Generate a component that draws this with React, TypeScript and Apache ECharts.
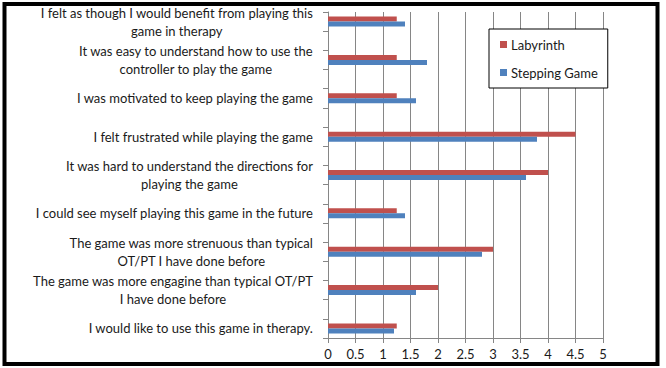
import React, { useEffect, useRef } from "react";
import * as echarts from "echarts";

const questions = [
  "I felt as though I would benefit from playing this\ngame in therapy",
  "It was easy to understand how to use the\ncontroller to play the game",
  "I was motivated to keep playing the game",
  "I felt frustrated while playing the game",
  "It was hard to understand the directions for\nplaying the game",
  "I could see myself playing this game in the future",
  "The game was more strenuous than typical\nOT/PT I have done before",
  "The game was more engagine than typical OT/PT\nI have done before",
  "I would like to use this game in therapy.",
];
const labyrinth = [1.25, 1.25, 1.25, 4.5, 4.0, 1.25, 3.0, 2.0, 1.25];
const steppingGame = [1.4, 1.8, 1.6, 3.8, 3.6, 1.4, 2.8, 1.6, 1.2];
const xTicks = { min: 0, max: 5, interval: 0.5 };

// Interleave blank spacer categories (as in the source spreadsheet)
const categories: string[] = [];
const labData: (number | null)[] = [];
const stepData: (number | null)[] = [];
questions.forEach((q, i) => {
  categories.push(q);
  labData.push(labyrinth[i]);
  stepData.push(steppingGame[i]);
  if (i < questions.length - 1) {
    categories.push("_gap" + i);
    labData.push(null);
    stepData.push(null);
  }
});

const FONT = "Lato";
const TEXT = "#1a1a1a";
const GRID = "#868686";

export default function App() {
  const ref = useRef<HTMLDivElement>(null);
  useEffect(() => {
    document.body.style.margin = "0";
    const chart = echarts.init(ref.current!, null, { renderer: "svg" });
    chart.setOption({
      animation: false,
      backgroundColor: "#fff",
      textStyle: { fontFamily: FONT },
      graphic: [
        {
          type: "rect",
          shape: { x: 4.5, y: 4, width: 653, height: 360 },
          style: { fill: "none", stroke: "#000", lineWidth: 4 },
          z: 100,
        },
      ],
      legend: {
        orient: "vertical",
        left: 489,
        top: 29,
        data: ["Labyrinth", "Stepping Game"],
        icon: "rect",
        itemWidth: 7,
        itemHeight: 7,
        itemGap: 15,
        padding: [9, 10, 9, 11],
        borderColor: "#000",
        borderWidth: 1,
        backgroundColor: "#fff",
        textStyle: { fontFamily: FONT, fontSize: 13, color: TEXT, padding: [0, 0, 0, -1] },
      },
      grid: { left: 328, right: 63, top: 12, bottom: 30, containLabel: false },
      xAxis: {
        type: "value",
        min: xTicks.min,
        max: xTicks.max,
        interval: xTicks.interval,
        axisLine: { show: true, lineStyle: { color: GRID, width: 1 } },
        axisTick: { show: true, length: 5, lineStyle: { color: GRID } },
        splitLine: { show: true, lineStyle: { color: GRID, width: 1 } },
        axisLabel: { fontFamily: FONT, fontSize: 13, color: TEXT, margin: 9 },
      },
      yAxis: {
        type: "category",
        inverse: true,
        data: categories,
        axisLine: { show: true, lineStyle: { color: GRID, width: 1 } },
        axisTick: { show: true, interval: 0, length: 5, lineStyle: { color: GRID } },
        axisLabel: {
          interval: 0,
          margin: 15,
          fontFamily: FONT,
          fontSize: 13,
          lineHeight: 18,
          color: TEXT,
          formatter: (v: string) => {
            if (v.startsWith("_gap")) return "";
            return v
              .split("\n")
              .map((l) => `{c|${l}}`)
              .join("\n");
          },
          rich: {
            c: { align: "center", fontFamily: FONT, fontSize: 13, lineHeight: 18, color: TEXT },
          },
        },
      },
      series: [
        {
          name: "Labyrinth",
          type: "bar",
          data: labData,
          barWidth: 5,
          barGap: "0%",
          itemStyle: { color: "#C0504D" },
        },
        {
          name: "Stepping Game",
          type: "bar",
          data: stepData,
          barWidth: 5,
          barGap: "0%",
          itemStyle: { color: "#4F81BD" },
        },
      ],
    });
    return () => chart.dispose();
  }, []);
  return <div ref={ref} style={{ width: 666, height: 368 }} />;
}
